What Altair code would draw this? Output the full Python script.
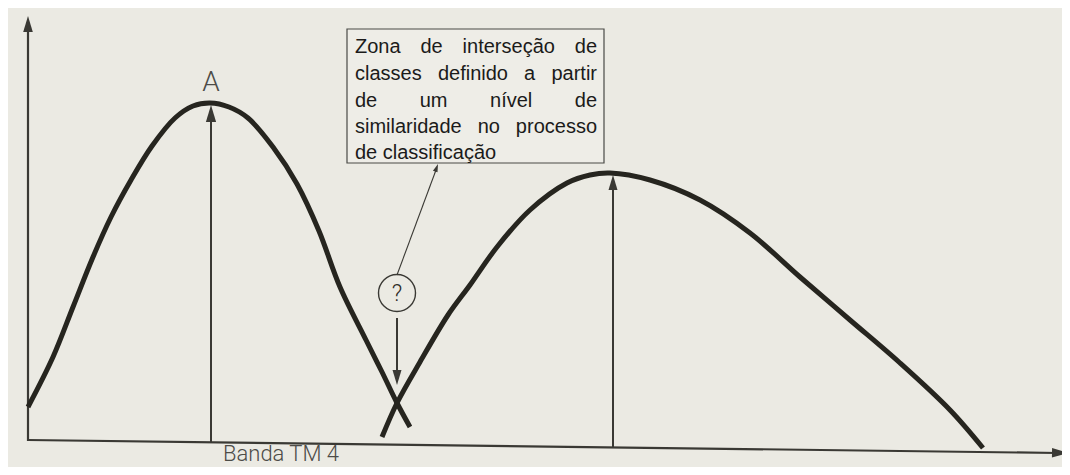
import math
import altair as alt
import pandas as pd

# ---------------- data (plot units: horizontal = band TM 4 value, vertical = frequency; both on a screen-like grid) -------------
curve_a_x = [28, 53, 73, 93, 111, 131, 152, 175, 193, 210, 229, 248, 273, 297, 319, 340, 366, 382, 397, 410]
curve_a_y = [407, 357, 307, 257, 217, 180, 146, 118, 106, 103, 107, 118, 147, 184, 231, 287, 340, 372, 403, 427]

curve_b_x = [382, 397, 420, 448, 470, 497, 530, 567, 590, 610, 650, 700, 750, 800, 850, 900, 950, 983]
curve_b_y = [437, 403, 362, 315, 285, 247, 210, 183, 175, 173, 180, 200, 233, 277, 320, 363, 410, 448]

# straight segments: axes, peak arrows, leader line, pointer arrow
seg_names = ["yaxis", "xaxis", "peakA", "peakB", "leader", "pointer"]
seg_x = [28, 28, 211, 613, 397, 397]
seg_y = [441, 440, 442, 447, 275, 318]
seg_x2 = [28, 1058, 211, 613, 436, 397]
seg_y2 = [28, 453, 118, 188, 170, 372]
seg_w = [2.2, 2.2, 2.0, 2.0, 1.1, 2.0]

# arrow heads: tip position, direction (deg clockwise from up), length
head_x = [28, 1068, 211, 613, 438, 397]
head_y = [16, 453, 105, 175, 164, 385]
head_angle = [0, 90.7, 0, 0, 20.4, 180]
head_len = [16, 16, 17, 15, 8, 15]

# "?" marker
q_x = [397]
q_y = [293]

# annotation box
box_x, box_y, box_x2, box_y2 = [347], [29], [604], [163]
box_lines = [
    "Zona de interseção de",
    "classes definido a partir",
    "de um nível de",
    "similaridade no processo",
    "de classificação",
]
box_justify = [True, True, True, True, False]
box_baselines = [53, 80, 107, 133, 159]
box_left, box_right = 355, 597

label_a = "A"
axis_label = "Banda TM 4"

# ---------------- layout helpers ----------------
FONT_SIZE = 20
# Arial / Liberation Sans advance widths (per 1000 em)
W = {"Z": 611, "o": 556, "n": 556, "a": 556, "d": 556, "e": 556, "i": 222, "t": 278,
     "r": 333, "s": 500, "ç": 500, "ã": 556, "c": 500, "l": 222, "f": 278, "p": 556,
     "u": 556, "m": 833, "í": 278, "v": 500, " ": 278}


def text_w(s):
    return sum(W.get(ch, 556) for ch in s) / 1000 * FONT_SIZE


words = []
for line, just, base in zip(box_lines, box_justify, box_baselines):
    if not just:
        words.append({"x": box_left, "y": base, "t": line})
        continue
    parts = line.split(" ")
    total = sum(text_w(p) for p in parts)
    gap = (box_right - box_left - total) / (len(parts) - 1)
    cur = box_left
    for p in parts:
        words.append({"x": cur, "y": base, "t": p})
        cur += text_w(p) + gap
words_df = pd.DataFrame(words)

curves = pd.DataFrame(
    [{"x": x, "y": y, "c": "A", "o": i} for i, (x, y) in enumerate(zip(curve_a_x, curve_a_y))]
    + [{"x": x, "y": y, "c": "B", "o": i} for i, (x, y) in enumerate(zip(curve_b_x, curve_b_y))]
)
segs = pd.DataFrame({"n": seg_names, "x": seg_x, "y": seg_y, "x2": seg_x2, "y2": seg_y2, "w": seg_w})

heads = []
for tx, ty, ang, L in zip(head_x, head_y, head_angle, head_len):
    r = math.radians(ang)
    heads.append({"x": tx - L / 2 * math.sin(r), "y": ty + L / 2 * math.cos(r),
                  "a": ang, "s": L * L})
heads_df = pd.DataFrame(heads)

XS = alt.Scale(domain=[8, 1062], nice=False, zero=False)
YS = alt.Scale(domain=[8, 467], nice=False, zero=False, reverse=True)
X = lambda f="x": alt.X(f"{f}:Q", scale=XS, axis=None)
Y = lambda f="y": alt.Y(f"{f}:Q", scale=YS, axis=None)

INK = "#3a3934"
CURVE = "#26251f"
BG = "#ebeae3"
LABEL_FONT = "Roboto"

box = alt.Chart(pd.DataFrame({"x": box_x, "y": box_y, "x2": box_x2, "y2": box_y2})).mark_rect(
    fill="#eeede7", stroke="#4a4a46", strokeWidth=1.2
).encode(x=X(), y=Y(), x2="x2:Q", y2="y2:Q")

lines = alt.Chart(segs).mark_rule(color=INK).encode(
    x=X(), y=Y(), x2="x2:Q", y2="y2:Q",
    strokeWidth=alt.StrokeWidth("w:Q", scale=None),
)

curve_layer = alt.Chart(curves).mark_line(
    color=CURVE, strokeWidth=5, interpolate="catmull-rom", strokeCap="butt"
).encode(x=X(), y=Y(), detail="c:N", order="o:Q")

head_layer = alt.Chart(heads_df).mark_point(
    shape="M0,-1L0.6,1L-0.6,1Z", filled=True, color=INK, opacity=1
).encode(
    x=X(), y=Y(),
    angle=alt.Angle("a:Q", scale=None),
    size=alt.Size("s:Q", scale=None),
)

circle = alt.Chart(pd.DataFrame({"x": q_x, "y": q_y})).mark_point(
    shape="circle", size=37 * 37, filled=False, color=INK, strokeWidth=1.4, opacity=1
).encode(x=X(), y=Y())

q_text = alt.Chart(pd.DataFrame({"x": q_x, "y": q_y, "t": ["?"]})).mark_text(
    font=LABEL_FONT, fontSize=23, fontWeight=300, color="#2e2d29",
    align="center", baseline="middle", dy=1
).encode(x=X(), y=Y(), text="t:N")

box_text = alt.Chart(words_df).mark_text(
    font="Liberation Sans", fontSize=FONT_SIZE, color="#1b1b1a", align="left", baseline="alphabetic"
).encode(x=X(), y=Y(), text="t:N")

a_text = alt.Chart(pd.DataFrame({"x": [211], "y": [91], "t": [label_a]})).mark_text(
    font=LABEL_FONT, fontSize=28, fontWeight=300, color="#4d4c48", align="center", baseline="alphabetic"
).encode(x=X(), y=Y(), text="t:N")

band_text = alt.Chart(pd.DataFrame({"x": [223], "y": [466], "t": [axis_label]})).mark_text(
    font=LABEL_FONT, fontSize=22, fontWeight=300, color="#4d4c48", align="left", baseline="bottom"
).encode(x=X(), y=Y(), text="t:N")

chart = alt.layer(
    box, lines, curve_layer, head_layer, circle, q_text, box_text, a_text, band_text
).properties(
    width=1054, height=459, autosize=alt.AutoSizeParams(type="none"), padding=0,
    background=BG,
).configure_view(strokeWidth=0)

chart.save("out.html", embed_options={"renderer": "svg", "actions": False})
